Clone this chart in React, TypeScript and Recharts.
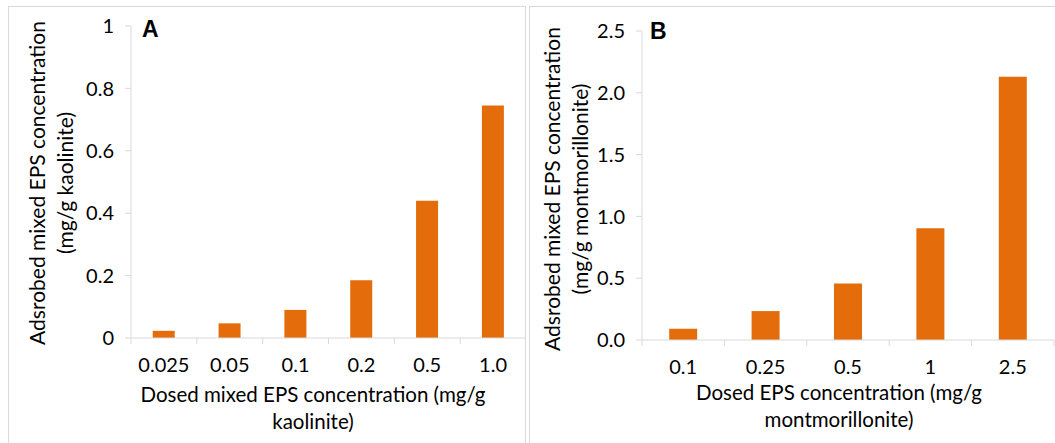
import { BarChart, Bar, XAxis, YAxis } from "recharts";

const ORANGE = "#E46C0A";
const AXIS = "#D9D9D9";
const INK = "#000000";
const FONT = "Lato, 'Noto Sans', sans-serif";

// panel A – kaolinite
const kaoliniteDose = ["0.025", "0.05", "0.1", "0.2", "0.5", "1.0"];
const kaoliniteAdsorbed = [0.023, 0.047, 0.09, 0.185, 0.44, 0.745];
const kaoliniteTicks = [0, 0.2, 0.4, 0.6, 0.8, 1];

// panel B – montmorillonite
const montDose = ["0.1", "0.25", "0.5", "1", "2.5"];
const montAdsorbed = [0.091, 0.234, 0.458, 0.905, 2.13];
const montTicks = [0, 0.5, 1, 1.5, 2, 2.5];

type PanelProps = {
  left: number;
  width: number;
  letter: string;
  letterX: number;
  letterY: number;
  dose: string[];
  adsorbed: number[];
  ticks: number[];
  fmt: (v: number) => string;
  margin: { top: number; right: number; bottom: number; left: number };
  yTitle: string[];
  yTitleX: number[];
  yTitleY: number;
  xTitle: string[];
  xTitleX: number;
  xTitleY: number[];
};

function CategoryTick(props: any) {
  const { x, y, payload, index, band, count } = props;
  const half = band / 2;
  return (
    <g>
      <line x1={x - half} y1={y} x2={x - half} y2={y + 6} stroke={AXIS} />
      {index === count - 1 && (
        <line x1={x + half} y1={y} x2={x + half} y2={y + 6} stroke={AXIS} />
      )}
      <text x={x} y={y + 34} textAnchor="middle" fill={INK} fontSize={20} fontFamily={FONT}>
        {payload.value}
      </text>
    </g>
  );
}

function Panel(p: PanelProps) {
  const data = p.dose.map((d, i) => ({ dose: d, value: p.adsorbed[i] }));
  const plotW = p.width - p.margin.left - 60 - p.margin.right;
  const band = plotW / p.dose.length;
  const top = p.ticks[p.ticks.length - 1];

  return (
    <div style={{ position: "absolute", left: p.left, top: 0 }}>
      <BarChart
        width={p.width}
        height={443}
        data={data}
        margin={p.margin}
        barCategoryGap="33%"
        style={{ fontFamily: FONT }}
      >
        <XAxis
          dataKey="dose"
          height={30}
          stroke={AXIS}
          tickLine={false}
          tickSize={0}
          tickMargin={0}
          interval={0}
          tick={<CategoryTick band={band} count={p.dose.length} />}
          label={{
            content: () => (
              <g>
                {p.xTitle.map((t, i) => (
                  <text
                    key={t}
                    x={p.xTitleX}
                    y={p.xTitleY[i]}
                    textAnchor="middle"
                    fill={INK}
                    fontSize={20.5}
                    fontFamily={FONT}
                  >
                    {t}
                  </text>
                ))}
              </g>
            ),
          }}
        />
        <YAxis
          width={60}
          domain={[0, top]}
          ticks={p.ticks}
          tickFormatter={p.fmt}
          stroke={AXIS}
          tickSize={6}
          tickMargin={11}
          tick={{ fill: INK, fontSize: 20 }}
          label={{
            content: () => (
              <g>
                {p.yTitle.map((t, i) => (
                  <text
                    key={t}
                    x={p.yTitleX[i]}
                    y={p.yTitleY}
                    transform={`rotate(-90, ${p.yTitleX[i]}, ${p.yTitleY})`}
                    textAnchor="middle"
                    fill={INK}
                    fontSize={21}
                    fontFamily={FONT}
                  >
                    {t}
                  </text>
                ))}
              </g>
            ),
          }}
        />
        <Bar dataKey="value" fill={ORANGE} isAnimationActive={false} />
        <text
          x={p.letterX}
          y={p.letterY}
          fontSize={23}
          fontWeight="bold"
          fontFamily="'Liberation Sans', Arial, sans-serif"
          fill={INK}
        >
          {p.letter}
        </text>
      </BarChart>
    </div>
  );
}

export default function App() {
  return (
    <div
      style={{
        position: "absolute",
        left: 0,
        top: 0,
        width: 1055,
        height: 443,
        overflow: "hidden",
        background: "#fff",
        fontFamily: FONT,
      }}
    >
      <div
        style={{
          position: "absolute",
          left: 8,
          top: 6,
          width: 518,
          height: 460,
          border: `1px solid ${AXIS}`,
          boxSizing: "border-box",
        }}
      />
      <div
        style={{
          position: "absolute",
          left: 529,
          top: 6,
          width: 540,
          height: 460,
          border: `1px solid ${AXIS}`,
          boxSizing: "border-box",
        }}
      />
      <Panel
        left={0}
        width={526}
        letter="A"
        letterX={142}
        letterY={37}
        dose={kaoliniteDose}
        adsorbed={kaoliniteAdsorbed}
        ticks={kaoliniteTicks}
        fmt={(v) => String(v)}
        margin={{ top: 26, right: 0, bottom: 75, left: 71 }}
        yTitle={["Adsrobed mixed EPS concentration", "(mg/g kaolinite)"]}
        yTitleX={[45, 73]}
        yTitleY={183}
        xTitle={["Dosed mixed EPS concentration (mg/g", "kaolinite)"]}
        xTitleX={313}
        xTitleY={[402, 429]}
      />
      <Panel
        left={529}
        width={526}
        letter="B"
        letterX={121}
        letterY={39}
        dose={montDose}
        adsorbed={montAdsorbed}
        ticks={montTicks}
        fmt={(v) => v.toFixed(1)}
        margin={{ top: 31, right: 1, bottom: 73, left: 53 }}
        yTitle={["Adsrobed mixed EPS concentration", "(mg/g montmorillonite)"]}
        yTitleX={[31, 59]}
        yTitleY={189}
        xTitle={["Dosed EPS concentration (mg/g", "montmorillonite)"]}
        xTitleX={310}
        xTitleY={[400, 427]}
      />
    </div>
  );
}
